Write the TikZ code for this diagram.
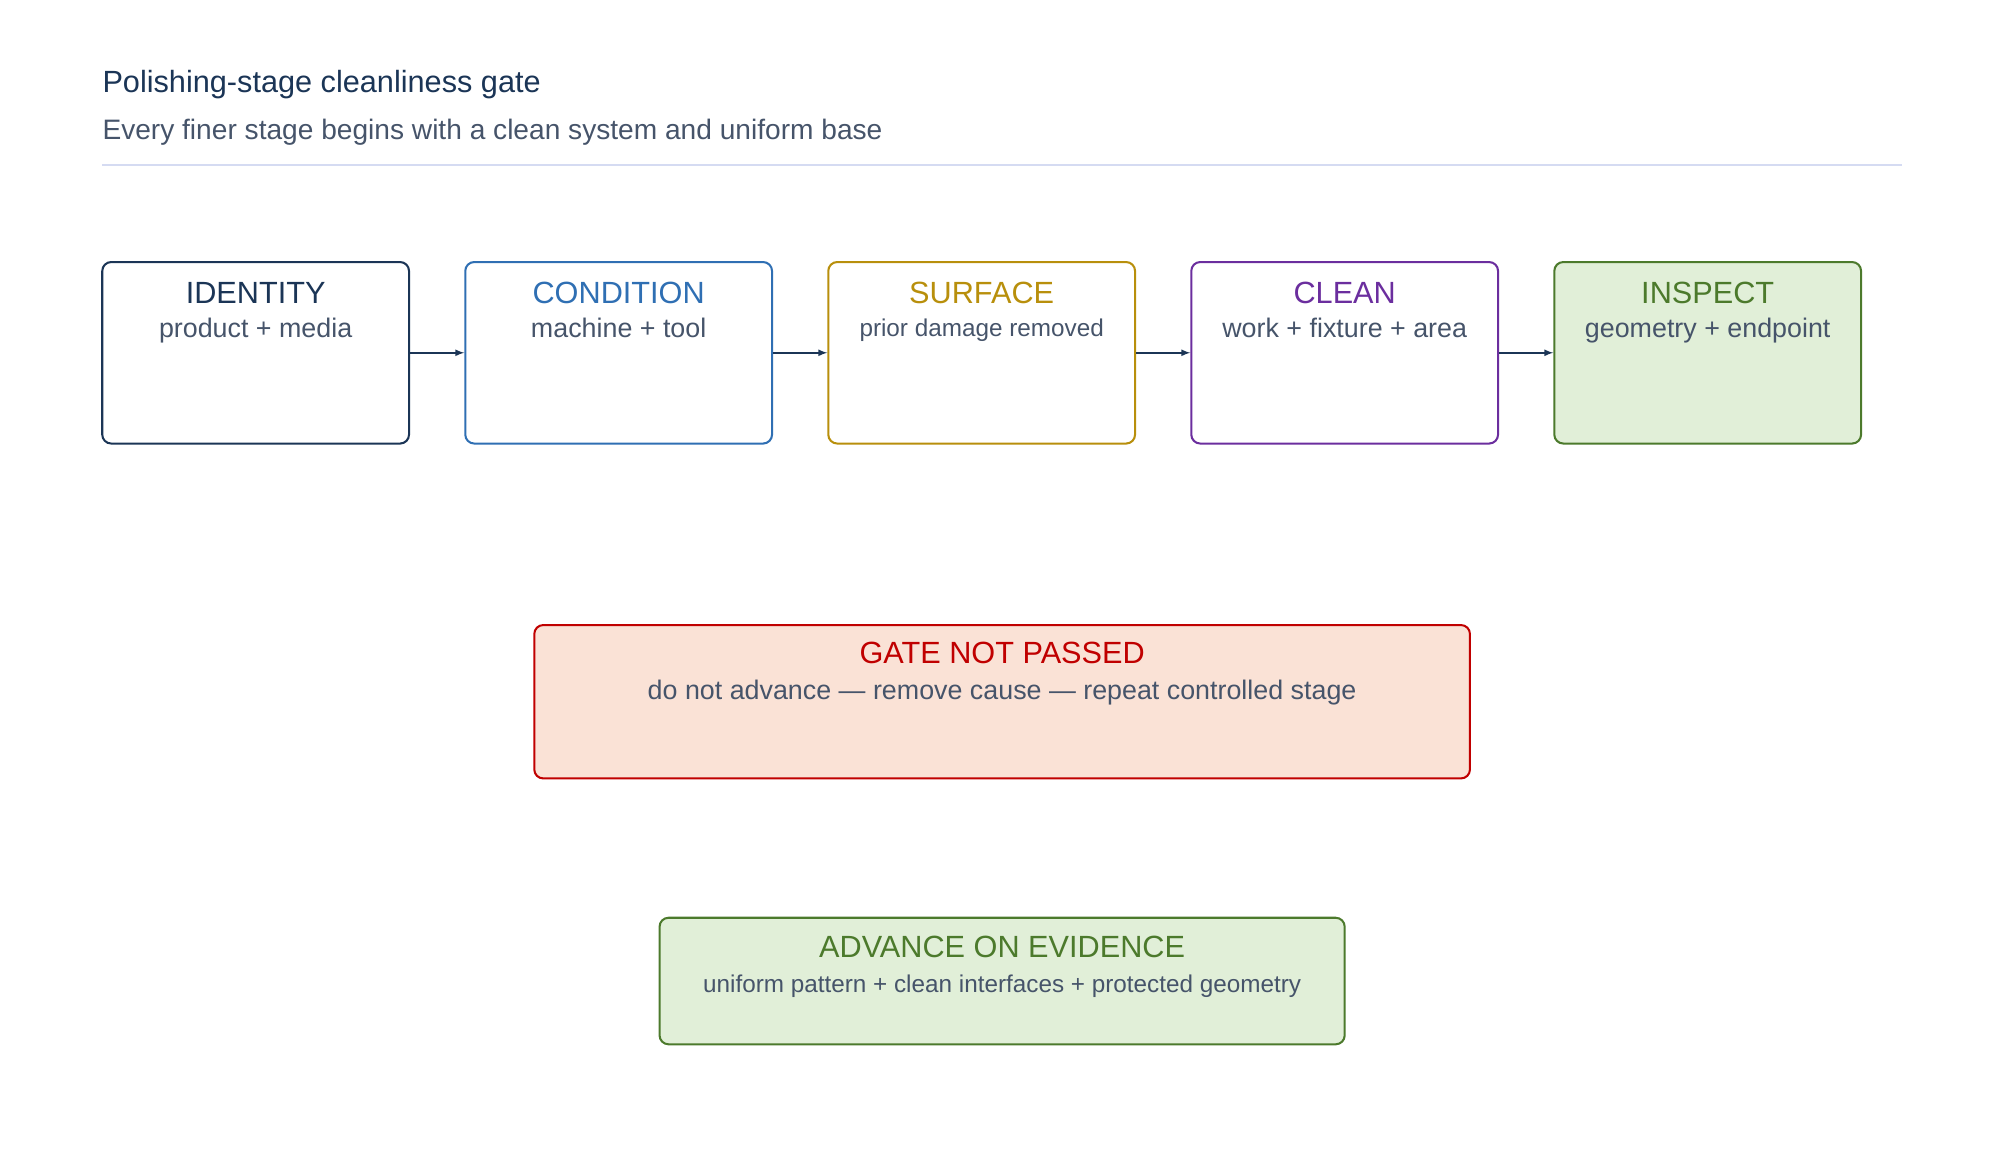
\documentclass[tikz,border=0pt]{standalone}
\usepackage{fontspec}
\setmainfont{Liberation Sans}
\usetikzlibrary{positioning}
\definecolor{navy}{HTML}{1B3556}
\definecolor{txtgray}{HTML}{46546A}
\definecolor{cblue}{HTML}{2F6FB3}
\definecolor{cgold}{HTML}{B88F0C}
\definecolor{cpurple}{HTML}{6B2E9E}
\definecolor{cgreen}{HTML}{4C7A2C}
\definecolor{gfill}{HTML}{E1EFD8}
\definecolor{cred}{HTML}{C00000}
\definecolor{rfill}{HTML}{FAE2D6}
\definecolor{rule}{HTML}{D5DBF2}
\tikzset{
  stage/.style={draw=#1, line width=1.6pt, rounded corners=7pt, minimum width=240pt, minimum height=142pt, inner sep=0pt},
  head/.style={text=#1, font=\fontsize{24}{28}\selectfont, inner sep=0pt, anchor=base},
  sub/.style={text=txtgray, font=\fontsize{21}{25}\selectfont, inner sep=0pt, anchor=base},
  flow/.style={-latex, line width=1.4pt, draw=navy}
}
\begin{document}
\begin{tikzpicture}[x=1pt, y=-1pt]
\useasboundingbox (0,0) rectangle (1560,908);
% header
\node[anchor=base west, text=navy, font=\fontsize{24}{28}\selectfont, inner sep=0pt] (title) at (80,72) {Polishing-stage cleanliness gate};
\node[anchor=base west, text=txtgray, font=\fontsize{22}{26}\selectfont, inner sep=0pt] (subtitle) at (80,109) {Every finer stage begins with a clean system and uniform base};
\draw[rule, line width=1.2pt] (80,129) coordinate (ruleL) -- (1488,129) coordinate (ruleR);
% stages
\node[stage=navy] (identity) at (200,276) {};
\node[stage=cblue] (condition) at (484,276) {};
\node[stage=cgold] (surface) at (768,276) {};
\node[stage=cpurple] (clean) at (1052,276) {};
\node[stage=cgreen, fill=gfill] (inspect) at (1336,276) {};
\foreach \n/\c/\h/\s in {identity/navy/IDENTITY/product + media,
                         condition/cblue/CONDITION/machine + tool,
                         clean/cpurple/CLEAN/work + fixture + area,
                         inspect/cgreen/INSPECT/geometry + endpoint}{
  \node[head=\c] (\n-h) at ([yshift=-33pt]\n.north) {\h};
  \node[sub] (\n-s) at ([yshift=-60pt]\n.north) {\s};
}
\node[head=cgold] (surface-h) at ([yshift=-33pt]surface.north) {SURFACE};
\node[sub, font=\fontsize{19}{23}\selectfont] (surface-s) at ([yshift=-59pt]surface.north) {prior damage removed};
\draw[flow] (identity) -- (condition);
\draw[flow] (condition) -- (surface);
\draw[flow] (surface) -- (clean);
\draw[flow] (clean) -- (inspect);
% outcomes
\node[stage=cred, fill=rfill, minimum width=732pt, minimum height=120pt] (gate) at (784,549) {};
\node[head=cred] (gate-h) at ([yshift=-31pt]gate.north) {GATE NOT PASSED};
\node[sub] (gate-s) at ([yshift=-59pt]gate.north) {do not advance — remove cause — repeat controlled stage};
\node[stage=cgreen, fill=gfill, minimum width=536pt, minimum height=99pt] (advance) at (784,767.5) {};
\node[head=cgreen] (advance-h) at ([yshift=-32pt]advance.north) {ADVANCE ON EVIDENCE};
\node[sub, font=\fontsize{19}{23}\selectfont] (advance-s) at ([yshift=-59pt]advance.north) {uniform pattern + clean interfaces + protected geometry};
\end{tikzpicture}
\end{document}
